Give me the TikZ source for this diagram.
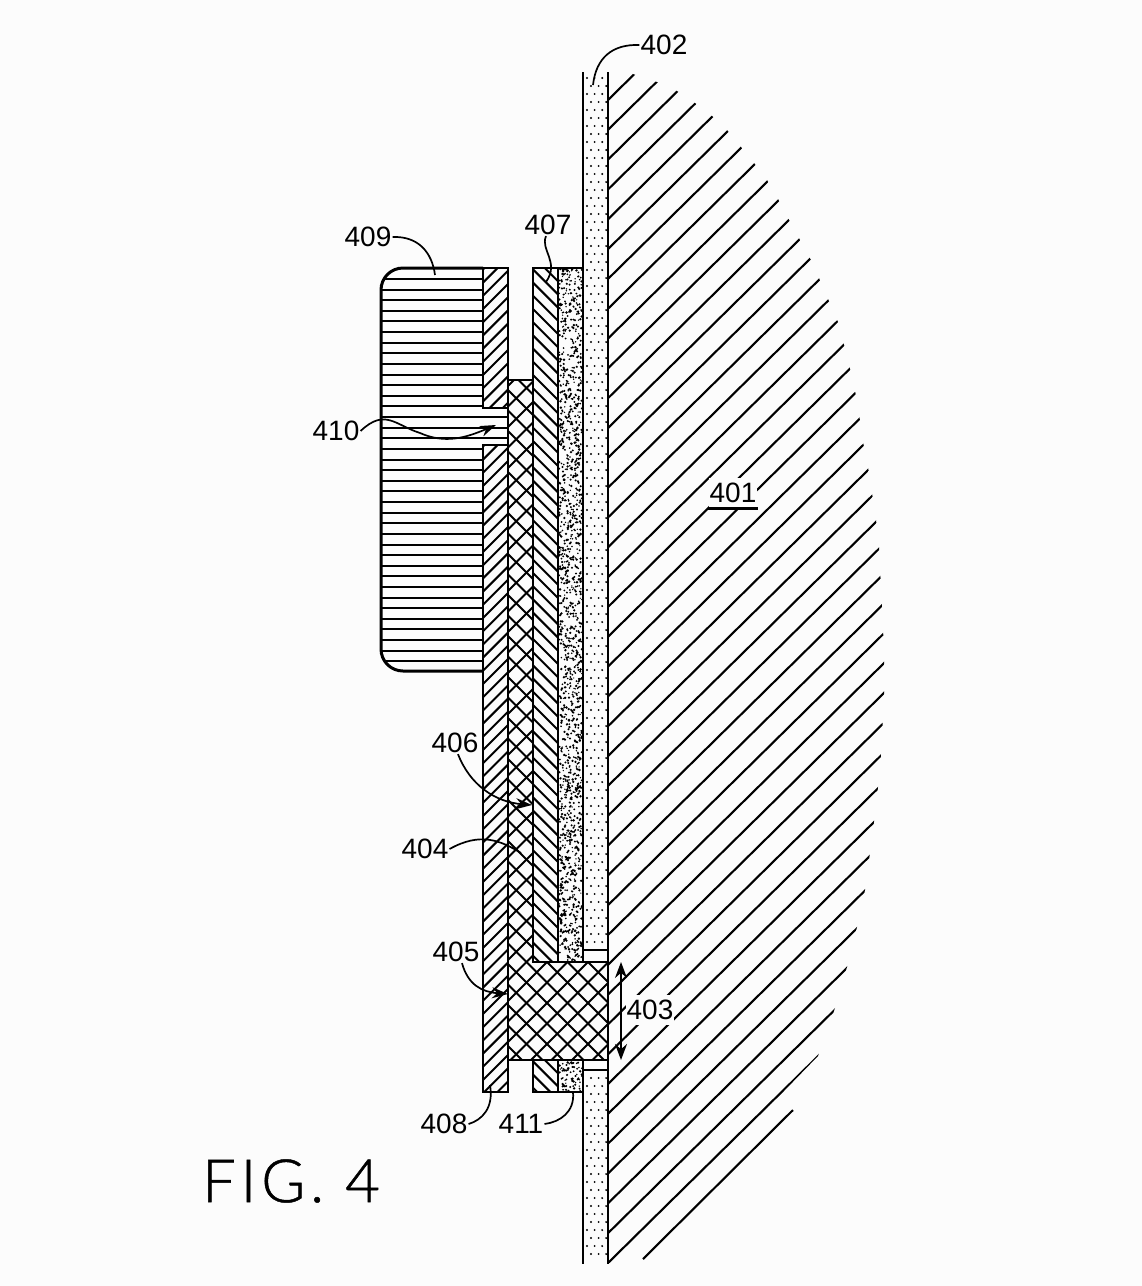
\documentclass[tikz,border=0pt]{standalone}
\usepackage{fontspec}
\setmainfont{Liberation Sans}
\newfontfamily\figfont[LetterSpace=8,FakeBold=0.8]{Lato Light}
\usetikzlibrary{arrows.meta}
\definecolor{paper}{gray}{0.99}
\tikzset{
  outline/.style={line width=2.6pt,black},
  hl/.style={line width=2pt,black},
  wide/.style={line width=2.1pt,black},
  leader/.style={line width=1.7pt,black},
  tip/.style={-{Stealth[length=16pt,width=11pt]}},
  lab/.style={font=\fontsize{28}{30}\selectfont,inner sep=1pt,text=black},
}
% \hatchbox{x1}{y1}{x2}{y2}{slope}{spacing}: slope>0 rises to the right
\newcommand{\hatchbox}[6]{%
  \begin{scope}
    \clip (#1,#2) rectangle (#3,#4);
    \pgfmathsetmacro{\ha}{#2-abs(#5)*(#3-#1)-#6}
    \pgfmathsetmacro{\hb}{\ha+#6}
    \pgfmathsetmacro{\hc}{#4+abs(#5)*(#3-#1)+#6}
    \foreach \yy in {\ha,\hb,...,\hc}{
      \draw[hl] (#1,\yy) -- (#3,{\yy-#5*(#3-#1)});
    }
  \end{scope}}
% \speck{x1}{y1}{x2}{y2}{count}
\newcommand{\speck}[5]{%
  \fill[black] \foreach \i in {1,...,#5}{
    \pgfextra{\pgfmathsetmacro{\px}{#1+1+rnd*(#3-#1-2)}\pgfmathsetmacro{\py}{#2+1+rnd*(#4-#2-2)}\pgfmathsetmacro{\ps}{0.7+0.65*rnd}}
    (\px,\py) circle (\ps pt)
  };}
\begin{document}
\begin{tikzpicture}[x=1pt,y=-1pt]
\useasboundingbox (0,0) rectangle (1142,1286);
\fill[paper] (0,0) rectangle (1142,1286);

% ---- 401 body hatch
\begin{scope}
  \clip (608,72) -- (633,74) -- (657,82) -- (677,91) -- (695,103) -- (712,116) -- (727,130) -- (741,147) -- (754,163) -- (767,180) -- (778,199) -- (788,218) -- (800,240) -- (812,262) -- (825,292) -- (838,322) -- (848,360) -- (857,400) -- (863,442) -- (868,467) -- (872,493) -- (876,520) -- (879,547) -- (884,650) -- (884,700) -- (880,770) -- (873,830) -- (865,890) -- (857,927) -- (847,967) -- (835,1008) -- (818,1056) -- (612,1268) -- (608,1268) -- cycle;
  \foreach \k in {0,...,39}{
    \pgfmathsetmacro{\yy}{100+29.82*\k}
    \draw[wide] (608,\yy) -- (900,{\yy-0.985*292});
  }
\end{scope}
\draw[wide] (643,1259) -- (793,1110);

% ---- 402 stippled layer
\foreach \r in {0,...,147}{
  \pgfmathsetmacro{\ry}{78+8*\r}
  \pgfmathsetmacro{\off}{mod(\r,2)*4}
  \ifdim \ry pt<947pt \relax
    \foreach \c in {0,1,2}{\fill[black] ({587+\off+7.6*\c},\ry) circle (1.05pt);}
  \else\ifdim \ry pt>1073pt \relax
    \foreach \c in {0,1,2}{\fill[black] ({587+\off+7.6*\c},\ry) circle (1.05pt);}
  \fi\fi
}

% ---- 407 / 411 speckled layer
\pgfmathsetseed{4711}
\speck{558}{268}{583}{962}{1550}
\speck{558}{1060}{583}{1092}{72}

% ---- 409 horizontal hatch
\begin{scope}
  \clip[rounded corners=22pt] (600,268) -- (381,268) -- (381,671) -- (600,671) -- cycle;
  \foreach \k in {0,...,36}{
    \pgfmathsetmacro{\yy}{279+10.62*\k}
    \pgfmathsetmacro{\xe}{(\yy>408 && \yy<445) ? 508 : 483}
    \draw[hl] (381,\yy) -- (\xe,\yy);
  }
\end{scope}

% ---- 408 hatch
\hatchbox{483}{268}{508}{408}{1}{13.2}
\hatchbox{483}{445}{508}{1092}{1}{13.2}
% ---- 404 cross hatch (strip and block in one)
\begin{scope}
  \clip (508,380) -- (533,380) -- (533,962) -- (608,962) -- (608,1060) -- (508,1060) -- cycle;
  \foreach \k in {-36,...,9}{
    \pgfmathsetmacro{\ya}{1001+20.5*\k}
    \pgfmathsetmacro{\yb}{923+20.5*\k}
    \draw[hl] (508,\ya) -- (608,{\ya-100});
    \draw[hl] (508,\yb) -- (608,{\yb+100});
  }
\end{scope}
% ---- 406 hatch
\hatchbox{533}{268}{558}{962}{-1}{13.2}
\hatchbox{533}{1060}{558}{1092}{-1}{13.2}

% ---- outlines
\draw[outline,line width=3pt,rounded corners=22pt] (483,268) -- (381,268) -- (381,671) -- (483,671);
\draw[outline] (483,671) -- (483,445) -- (508,445);
\draw[outline] (508,408) -- (483,408) -- (483,268) -- (508,268) -- (508,408);
\draw[outline] (508,445) -- (508,380) -- (533,380);
\draw[outline] (508,445) -- (508,1060);
\draw[outline] (483,671) -- (483,1092) -- (508,1092) -- (508,1060) -- (608,1060);
\draw[outline] (533,380) -- (533,268) -- (583,268);
\draw[outline] (533,380) -- (533,962) -- (608,962);
\draw[outline] (558,268) -- (558,962);
\draw[outline] (583,72) -- (583,962);
\draw[outline] (608,72) -- (608,1264);
\draw[outline] (583,950) -- (608,950);
\draw[outline] (583,1070) -- (608,1070);
\draw[outline] (583,1060) -- (583,1264);
\draw[outline] (533,1060) -- (533,1092) -- (583,1092);
\draw[outline] (558,1060) -- (558,1092);

% ---- labels
\node[lab] (l402) at (664,45) {402};
\node[lab] (l409) at (368,237) {409};
\node[lab] (l407) at (548,225) {407};
\node[lab] (l410) at (336,431) {410};
\node[lab,fill=paper,inner xsep=1pt,inner ysep=5pt] (l401) at (733,493) {401};
\draw[line width=3pt,black] (l401.south west) -- (l401.south east);
\node[lab] (l406) at (455,743) {406};
\node[lab] (l404) at (425,849) {404};
\node[lab] (l405) at (456,952) {405};
\node[lab,fill=paper,inner xsep=1pt,inner ysep=5pt] (l403) at (650,1010) {403};
\node[lab] (l408) at (444,1124) {408};
\node[lab] (l411) at (521,1124) {411};
\node[anchor=center,inner sep=0pt,text=black] (fig) at (291,1181) {\figfont\fontsize{60}{64}\selectfont FIG. 4};

% ---- dimension arrow 403
\coordinate (dimtop) at (621,962);
\coordinate (dimbot) at (621,1060);
\draw[line width=1.6pt,black,{Stealth[length=16pt,width=12pt]}-{Stealth[length=16pt,width=12pt]}] (dimtop) -- (dimbot);

% ---- leader end points
\coordinate (e402) at (593,85);
\coordinate (e409) at (435,275);
\coordinate (e407) at (546,282);
\coordinate (e410) at (496,425);
\coordinate (e406) at (532,805);
\coordinate (e404) at (521,853);
\coordinate (e405) at (508,994);
\coordinate (e408) at (490,1085);
\coordinate (e411) at (573,1092);

\draw[leader] (l402.west) .. controls (612,44) and (596,58) .. (e402);
\draw[leader] (l409.east) .. controls (418,236) and (432,252) .. (e409);
\draw[leader] (l407.south) ++(-2,0) .. controls (540,250) and (560,262) .. (e407);
\draw[leader,tip] (l410.east) .. controls (385,408) and (395,425) .. (420,433) .. controls (445,444) and (465,438) .. (e410);
\draw[leader,tip] (l406.south) ++(3,0) .. controls (470,785) and (495,802) .. (e406);
\draw[leader] (l404.east) .. controls (480,832) and (500,840) .. (e404);
\draw[leader,tip] (l405.south) ++(6,0) .. controls (468,985) and (482,992) .. (e405);
\draw[leader] (l408.east) .. controls (482,1120) and (494,1108) .. (e408);
\draw[leader] (l411.east) .. controls (560,1122) and (575,1112) .. (e411);
\end{tikzpicture}
\end{document}
